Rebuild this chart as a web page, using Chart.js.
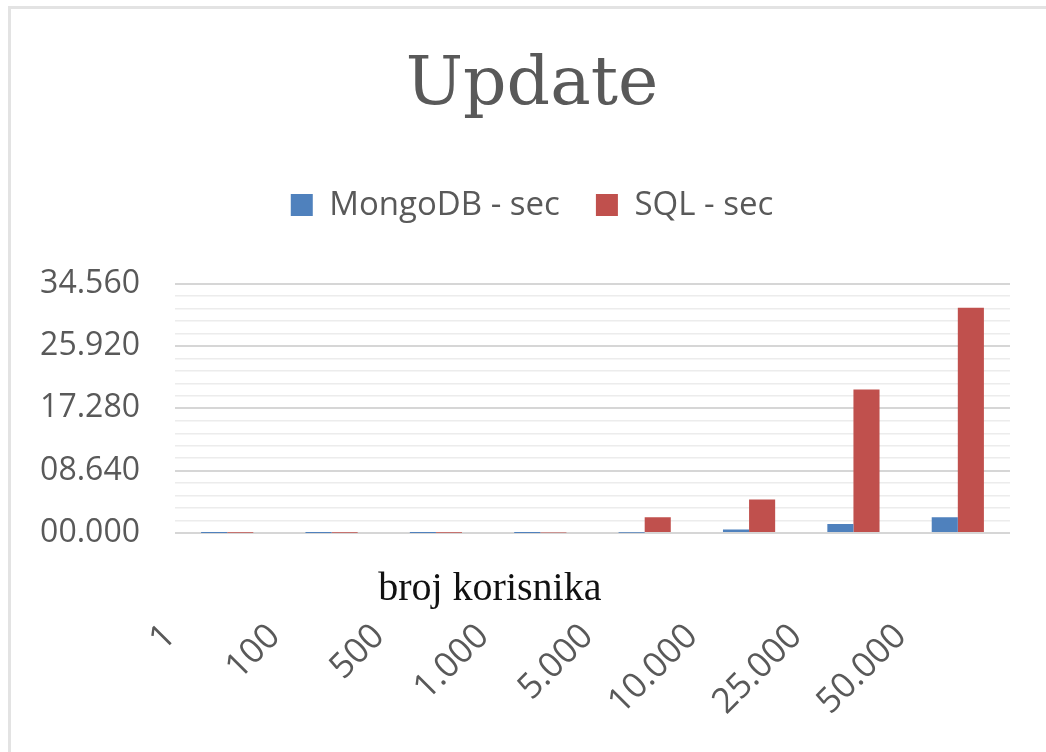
<!DOCTYPE html>
<html>
<head>
<meta charset="utf-8">
<title>Update</title>
<script src="https://cdn.jsdelivr.net/npm/chart.js@4.4.1/dist/chart.umd.min.js"></script>
<style>
  html, body { margin: 0; padding: 0; background: #fff; overflow: hidden; }
  #frame {
    position: absolute; left: 8px; top: 6px; width: 1035px; height: 743px;
    border-left: 3px solid #e3e3e3; border-top: 3px solid #e3e3e3;
  }
  #box { position: absolute; left: 0; top: 0; width: 1046px; height: 752px; }
</style>
</head>
<body>
<div id="frame"></div>
<div id="box"><canvas id="updateChart"></canvas></div>
<script>
// Update timings, MongoDB vs SQL, per number of users

const CATEGORIES = ["1", "100", "500", "1.000", "5.000", "10.000", "25.000", "50.000"];
const MONGO_SEC = [0.01, 0.01, 0.01, 0.02, 0.05, 0.5, 1.25, 2.2];
const SQL_SEC = [0.03, 0.03, 0.03, 0.06, 2.2, 4.65, 19.9, 31.2];

const Y_MAX = 34.56;
const Y_MINOR_STEPS = 20;
const Y_TICK_LABELS = ["00.000", "08.640", "17.280", "25.920", "34.560"];

const GREY_TEXT = "#595959";
const BLUE = "#4f81bd";
const RED = "#c0504d";

// x-axis title sits between the plot and the rotated labels
const axisTitlePlugin = {
  id: "axisTitleInside",
  afterDraw: (chart) => {
    const { ctx, chartArea } = chart;
    ctx.save();
    ctx.font = "40px 'Liberation Serif'";
    ctx.fillStyle = "#111";
    ctx.textAlign = "center";
    ctx.textBaseline = "alphabetic";
    const x = chartArea.left + (chartArea.right - chartArea.left) * 0.377;
    ctx.fillText("broj korisnika", x, chartArea.bottom + 67);
    ctx.restore();
  },
};

// extra room under the legend
const legendGapPlugin = {
  id: "legendGap",
  beforeInit: (chart) => {
    const fit = chart.legend.fit;
    chart.legend.fit = function () {
      fit.bind(chart.legend)();
      this.height += 52;
    };
  },
};

const buildChartConfig = () => ({
  type: "bar",
  data: {
    labels: CATEGORIES,
    datasets: [
      {
        label: "MongoDB - sec",
        data: MONGO_SEC,
        backgroundColor: BLUE,
        categoryPercentage: 0.5,
        barPercentage: 1.0,
      },
      {
        label: "SQL - sec",
        data: SQL_SEC,
        backgroundColor: RED,
        categoryPercentage: 0.5,
        barPercentage: 1.0,
      },
    ],
  },
  options: {
    responsive: true,
    maintainAspectRatio: false,
    animation: false,
    layout: { padding: { left: 54, right: 36, top: 0, bottom: 26 } },
    plugins: {
      tooltip: { enabled: false },
      title: {
        display: true,
        text: "Update",
        color: GREY_TEXT,
        font: { family: "'DejaVu Serif'", size: 68, weight: "normal" },
        padding: { top: 46, bottom: 25 },
      },
      legend: {
        display: true,
        position: "top",
        labels: {
          color: GREY_TEXT,
          font: { family: "'Open Sans'", size: 33 },
          boxWidth: 22,
          boxHeight: 22,
          padding: 36,
        },
      },
    },
    scales: {
      x: {
        grid: { display: false, drawTicks: true, tickLength: 80 },
        border: { display: false },
        ticks: {
          color: GREY_TEXT,
          font: { family: "'Open Sans'", size: 35 },
          minRotation: 45,
          maxRotation: 45,
          autoSkip: false,
          labelOffset: -57,
          padding: 3,
        },
      },
      y: {
        min: 0,
        max: Y_MAX,
        border: { display: false },
        afterBuildTicks: (scale) => {
          const step = Y_MAX / Y_MINOR_STEPS;
          scale.ticks = Array.from({ length: Y_MINOR_STEPS + 1 }, (_, i) => ({ value: i * step }));
        },
        afterFit: (scale) => {
          scale.width = 121;
        },
        afterUpdate: (scale) => {
          // labels are wider than the narrowed axis box; don't clip them
          scale._computeLabelArea = () => undefined;
        },
        grid: {
          drawTicks: false,
          color: (ctx) => (ctx.index % 5 === 0 ? "#d6d6d6" : "#ececec"),
          lineWidth: (ctx) => (ctx.index % 5 === 0 ? 2 : 1.5),
        },
        ticks: {
          color: GREY_TEXT,
          font: { family: "'Open Sans'", size: 32 },
          padding: 35,
          autoSkip: false,
          callback: (value, index) => (index % 5 === 0 ? Y_TICK_LABELS[index / 5] : ""),
        },
      },
    },
  },
  plugins: [axisTitlePlugin, legendGapPlugin],
});

const canvas = document.getElementById("updateChart");
new Chart(canvas.getContext("2d"), buildChartConfig());
</script>
</body>
</html>
